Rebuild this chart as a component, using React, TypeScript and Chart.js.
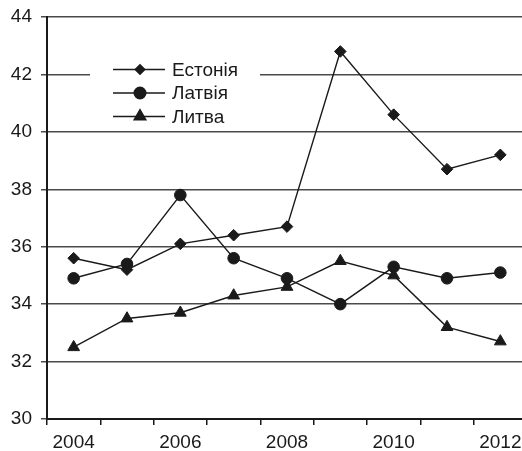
import React, { useEffect, useRef } from 'react';
import { Chart, registerables } from 'chart.js';
import { drawPoint } from 'chart.js/helpers';

Chart.register(...registerables);

const years = ['2004', '2005', '2006', '2007', '2008', '2009', '2010', '2011', '2012'];
const estonia = [35.6, 35.2, 36.1, 36.4, 36.7, 42.8, 40.6, 38.7, 39.2];
const latvia = [34.9, 35.4, 37.8, 35.6, 34.9, 34.0, 35.3, 34.9, 35.1];
const lithuania = [32.5, 33.5, 33.7, 34.3, 34.6, 35.5, 35.0, 33.2, 32.7];
const seriesNames = ['Естонія', 'Латвія', 'Литва'];
const yMin = 30;
const yMax = 44;
const yStep = 2;

const FONT = '"Liberation Sans", Arial, Helvetica, sans-serif';
const INK = '#1a1a1a';

const legendPlugin = {
  id: 'insideLegend',
  afterDraw(chart: any) {
    const { ctx, chartArea } = chart;
    const L = chartArea.left;
    const T = chartArea.top;
    ctx.save();
    ctx.fillStyle = '#fff';
    ctx.fillRect(L + 43, T + 38, 170, 74);
    chart.data.datasets.forEach((ds: any, i: number) => {
      const y = T + 52.5 + i * 23.5;
      ctx.strokeStyle = INK;
      ctx.lineWidth = 1.4;
      ctx.beginPath();
      ctx.moveTo(L + 66, y);
      ctx.lineTo(L + 118, y);
      ctx.stroke();
      ctx.fillStyle = INK;
      drawPoint(ctx, { pointStyle: ds.pointStyle, radius: ds.legendRadius, rotation: 0, borderWidth: 1 }, L + 93, y);
      ctx.fillStyle = INK;
      ctx.font = `19px ${FONT}`;
      ctx.textBaseline = 'middle';
      ctx.textAlign = 'left';
      ctx.fillText(ds.label, L + 125, y + 1);
    });
    ctx.restore();
  },
};

export default function App() {
  const ref = useRef<HTMLCanvasElement | null>(null);
  useEffect(() => {
    if (!ref.current) return;
    const mk = (label: string, data: number[], pointStyle: string, radius: number, legendRadius: number) => ({
      label,
      data,
      pointStyle,
      pointRadius: radius,
      legendRadius,
      borderColor: INK,
      backgroundColor: INK,
      pointBackgroundColor: INK,
      pointBorderColor: INK,
      pointBorderWidth: 1,
      borderWidth: 1.4,
      tension: 0,
      fill: false,
    });
    const chart = new Chart(ref.current, {
      type: 'line',
      data: {
        labels: years,
        datasets: [
          mk(seriesNames[0], estonia, 'rectRot', 5.8, 4.8),
          mk(seriesNames[1], latvia, 'circle', 5.8, 5.8),
          mk(seriesNames[2], lithuania, 'triangle', 6.8, 6.8),
        ] as any,
      },
      options: {
        animation: false,
        responsive: false,
        devicePixelRatio: 1,
        layout: { padding: { top: 17, right: 13, bottom: 0, left: 0 } },
        plugins: { legend: { display: false }, tooltip: { enabled: false } },
        font: { family: FONT, size: 19 },
        scales: {
          x: {
            type: 'category',
            offset: true,
            afterFit: (s: any) => { s.height = 32; s.paddingLeft = 0; s.paddingRight = 0; },
            grid: { offset: true, drawOnChartArea: false, drawTicks: true, tickLength: 6, color: INK, lineWidth: 1.5 },
            border: { display: true, color: INK, width: 2 },
            ticks: {
              autoSkip: false,
              maxRotation: 0,
              padding: 6,
              color: INK,
              font: { family: FONT, size: 19 },
              callback: (_v: any, i: number) => (i % 2 === 0 ? years[i] : ''),
            },
          },
          y: {
            min: yMin,
            max: yMax,
            afterFit: (s: any) => { s.width = 47; s.paddingTop = 0; s.paddingBottom = 0; },
            grid: { color: '#4a4a4a', lineWidth: 1.5, drawTicks: true, tickLength: 6 },
            border: { display: true, color: INK, width: 2 },
            ticks: { stepSize: yStep, padding: 9, color: INK, font: { family: FONT, size: 19 } },
          },
        },
      } as any,
      plugins: [legendPlugin],
    });
    return () => chart.destroy();
  }, []);
  return (
    <div style={{ position: 'fixed', left: 0, top: 0, width: 522, height: 451, overflow: 'hidden', background: '#fff' }}>
      <canvas ref={ref} width={540} height={451} style={{ display: 'block' }} />
    </div>
  );
}
